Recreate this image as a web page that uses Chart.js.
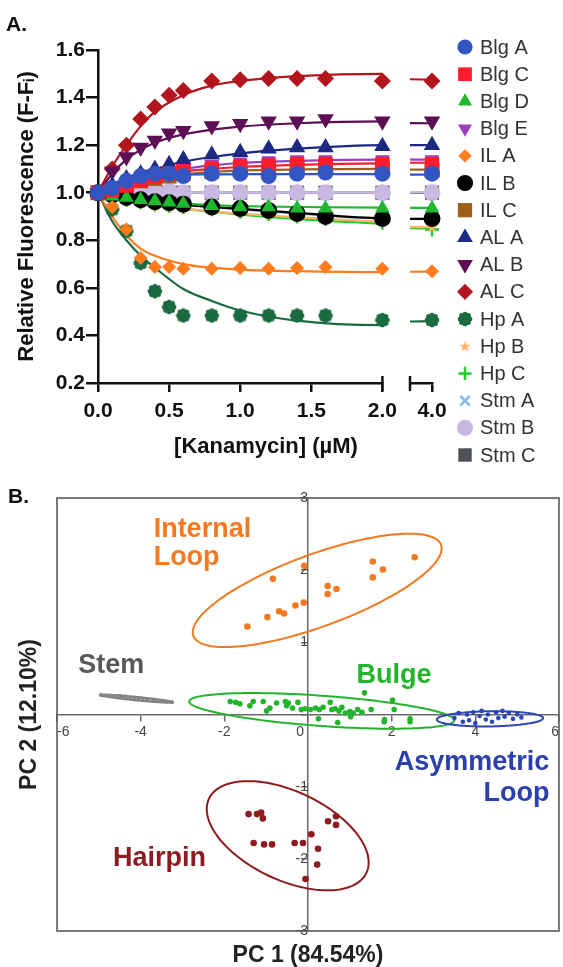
<!DOCTYPE html>
<html>
<head>
<meta charset="utf-8">
<script src="https://cdn.jsdelivr.net/npm/chart.js@4.4.1/dist/chart.umd.min.js"></script>
<style>
  html, body { margin: 0; padding: 0; background: #fff; }
  #wrap { position: relative; width: 563px; height: 967px; overflow: hidden; }
  canvas { position: absolute; }
  #curve { left: 0; top: 0; }
  #curveBreak { left: 390px; top: 0; }
  #pca { left: 0; top: 480px; }
</style>
</head>
<body>
<div id="wrap">
  <canvas id="curve" width="404" height="460"></canvas>
  <canvas id="curveBreak" width="173" height="476"></canvas>
  <canvas id="pca" width="563" height="487"></canvas>
</div>
<script>
// ===== Panel A data: titration points =====
const seriesNames = ['Blg A', 'Blg C', 'Blg D', 'Blg E', 'IL A', 'IL B', 'IL C', 'AL A',
  'AL B', 'AL C', 'Hp A', 'Hp B', 'Hp C', 'Stm A', 'Stm B', 'Stm C'];

const concX = [0, 0.1, 0.2, 0.3, 0.4, 0.5, 0.6, 0.8, 1.0, 1.2, 1.4, 1.6, 2.0, 4.0];

const blgA = [1.00, 1.02, 1.05, 1.07, 1.08, 1.08, 1.07, 1.08, 1.08, 1.07, 1.08, 1.085, 1.08, 1.08];
const blgC = [1.00, 1.01, 1.03, 1.05, 1.07, 1.08, 1.09, 1.10, 1.11, 1.115, 1.12, 1.12, 1.12, 1.12];
const blgD = [1.00, 0.985, 0.98, 0.97, 0.965, 0.96, 0.955, 0.945, 0.94, 0.94, 0.935, 0.935, 0.935, 0.935];
const blgE = [1.00, 1.02, 1.04, 1.06, 1.08, 1.09, 1.10, 1.12, 1.13, 1.135, 1.14, 1.14, 1.14, 1.14];
const ilA  = [1.00, 0.94, 0.845, 0.726, 0.688, 0.688, 0.68, 0.68, 0.684, 0.68, 0.684, 0.688, 0.68, 0.67];
const ilB  = [1.00, 0.99, 0.98, 0.97, 0.962, 0.958, 0.952, 0.94, 0.934, 0.925, 0.913, 0.90, 0.892, 0.892];
const ilC  = [1.00, 1.01, 1.03, 1.05, 1.06, 1.07, 1.08, 1.09, 1.10, 1.10, 1.105, 1.105, 1.10, 1.095];
const alA  = [1.00, 1.03, 1.06, 1.08, 1.10, 1.12, 1.14, 1.16, 1.17, 1.185, 1.19, 1.19, 1.195, 1.20];
const alB  = [1.00, 1.09, 1.15, 1.19, 1.22, 1.25, 1.26, 1.28, 1.29, 1.30, 1.30, 1.31, 1.30, 1.30];
const alC  = [1.00, 1.10, 1.20, 1.31, 1.36, 1.41, 1.43, 1.47, 1.475, 1.48, 1.48, 1.48, 1.47, 1.47];
const hpA  = [1.00, 0.93, 0.84, 0.705, 0.586, 0.52, 0.484, 0.484, 0.484, 0.484, 0.484, 0.484, 0.465, 0.465];
const hpB  = [1.00, 0.98, 0.965, 0.955, 0.945, 0.94, 0.935, 0.925, 0.915, 0.905, 0.895, 0.89, 0.88, 0.855];
const hpC  = [1.00, 0.985, 0.97, 0.96, 0.95, 0.945, 0.94, 0.93, 0.92, 0.91, 0.90, 0.89, 0.875, 0.845];
const stmA = [1.00, 0.99, 0.98, 0.97, 0.96, 0.955, 0.95, 0.94, 0.93, 0.92, 0.91, 0.90, 0.89, 0.89];
const stmB = [1.00, 1.00, 1.00, 1.005, 1.005, 1.005, 1.00, 1.00, 1.00, 1.00, 1.00, 1.00, 1.00, 1.00];
const stmC = [1.00, 1.00, 1.00, 1.00, 1.00, 1.00, 1.00, 1.00, 1.00, 1.00, 1.00, 1.00, 1.00, 1.00];

// fitted curves
const fitX = [0, 0.1, 0.2, 0.3, 0.4, 0.6, 0.8, 1.0, 1.4, 2.0, 4.0];

const fitBlgA = [1.0, 1.035, 1.055, 1.066, 1.072, 1.076, 1.077, 1.078, 1.078, 1.078, 1.076];
const fitBlgC = [1.0, 1.02, 1.04, 1.058, 1.072, 1.09, 1.10, 1.108, 1.117, 1.123, 1.126];
const fitBlgD = [1.0, 0.99, 0.98, 0.972, 0.965, 0.955, 0.948, 0.944, 0.94, 0.937, 0.936];
const fitBlgE = [1.0, 1.02, 1.042, 1.062, 1.078, 1.10, 1.115, 1.125, 1.134, 1.139, 1.139];
const fitIlA  = [1.0, 0.90, 0.82, 0.765, 0.735, 0.70, 0.685, 0.677, 0.67, 0.666, 0.668];
const fitIlB  = [1.0, 0.99, 0.98, 0.971, 0.963, 0.95, 0.94, 0.932, 0.915, 0.893, 0.89];
const fitIlC  = [1.0, 1.02, 1.038, 1.052, 1.063, 1.078, 1.087, 1.093, 1.098, 1.10, 1.097];
const fitAlA  = [1.0, 1.035, 1.062, 1.085, 1.10, 1.13, 1.15, 1.165, 1.185, 1.20, 1.20];
const fitAlB  = [1.0, 1.08, 1.14, 1.18, 1.21, 1.245, 1.265, 1.278, 1.292, 1.30, 1.292];
const fitAlC  = [1.0, 1.11, 1.20, 1.28, 1.34, 1.41, 1.45, 1.47, 1.49, 1.50, 1.475];
const fitHpA  = [1.0, 0.88, 0.80, 0.735, 0.685, 0.595, 0.545, 0.505, 0.462, 0.443, 0.46];
const fitHpB  = [1.0, 0.985, 0.97, 0.958, 0.948, 0.933, 0.922, 0.912, 0.897, 0.878, 0.855];
const fitHpC  = [1.0, 0.985, 0.97, 0.958, 0.948, 0.932, 0.92, 0.908, 0.89, 0.87, 0.85];
const fitStmA = [1.0, 0.99, 0.98, 0.97, 0.962, 0.95, 0.94, 0.93, 0.912, 0.892, 0.89];
const fitStmB = [1.0, 1.0, 1.0, 1.0, 1.0, 1.0, 1.0, 1.0, 1.0, 1.0, 1.003];
const fitStmC = [1.0, 1.0, 1.0, 1.0, 1.0, 1.0, 1.0, 1.0, 1.0, 1.0, 1.0];

const yTicksA = [0.2, 0.4, 0.6, 0.8, 1.0, 1.2, 1.4, 1.6];
const xTicksMain = [0, 0.5, 1.0, 1.5, 2.0];
const xTicksBreak = [4.0];

// ===== Panel B data: PCA scores =====
const pc1Internal = [-1.45, -0.97, -0.69, -0.57, -0.84, -0.30, -0.10, -0.09, 0.47, 0.47, 0.68, 1.55, 1.55, 1.79, 2.55];
const pc2Internal = [1.22, 1.35, 1.43, 1.40, 1.88, 1.51, 1.55, 2.06, 1.78, 1.67, 1.74, 2.12, 1.90, 2.01, 2.18];

const pc1Stem = [-4.95, -4.75, -4.6, -4.5, -4.45, -4.35, -4.25, -4.15, -4.05, -3.95, -3.85, -3.7, -3.5, -3.25];
const pc2Stem = [0.27, 0.26, 0.25, 0.26, 0.24, 0.25, 0.23, 0.23, 0.22, 0.22, 0.21, 0.20, 0.19, 0.17];

const pc1Bulge = [-1.86, -1.73, -1.63, -1.39, -1.31, -1.07, -0.91, -0.75, -0.54, -0.51, -0.47, -0.37,
  -0.24, -0.16, -0.07, 0.06, 0.18, 0.27, 0.36, 0.53, 0.57, 0.65, 0.74, 0.81, 0.89, 1.00, 1.08, 1.19,
  1.29, 1.35, 1.51, 1.83, 2.02, 2.06, 2.44, 0.71, 1.02, 1.82, 2.44, 0.25, -0.99];
const pc2Bulge = [0.18, 0.17, 0.15, 0.12, 0.18, 0.18, 0.09, 0.16, 0.18, 0.12, 0.16, 0.09,
  0.17, 0.07, 0.08, 0.07, 0.09, 0.07, 0.10, 0.17, 0.07, 0.08, 0.05, 0.10, 0.02, 0.04, 0.02, 0.07,
  0.03, 0.30, 0.07, -0.07, 0.20, 0.07, -0.06, -0.11, -0.03, -0.10, -0.10, -0.06, 0.05];

const pc1Asym = [3.5, 3.6, 3.7, 3.8, 3.85, 3.95, 4.0, 4.1, 4.15, 4.25, 4.3, 4.4, 4.5, 4.55, 4.65, 4.7, 4.8, 4.9, 5.0, 5.1];
const pc2Asym = [-0.05, 0.02, -0.10, 0.0, -0.08, 0.03, -0.12, -0.02, 0.05, -0.07, 0.0, -0.10, 0.03, -0.05, 0.05, -0.03, 0.02, -0.06, 0.0, -0.04];

const pc1Hairpin = [-1.42, -1.22, -1.12, -1.08, -1.30, -1.05, -0.86, -0.32, -0.12, 0.08, 0.24, 0.22, -0.06, 0.48, 0.67, 0.67];
const pc2Hairpin = [-1.38, -1.38, -1.36, -1.44, -1.78, -1.80, -1.80, -1.78, -1.78, -1.66, -1.86, -2.08, -2.28, -1.48, -1.41, -1.53];

// confidence ellipses: centre, and two conjugate half-axes (PC units)
const ellipseInternal = { cx: 0.22, cy: 1.72, ax: 2.975, ay: 0.58, bx: 0, by: 0.53 };
const ellipseStem     = { cx: -4.1, cy: 0.22, ax: 0.87, ay: -0.05, bx: 0, by: 0.022 };
const ellipseBulge    = { cx: 0.33, cy: 0.05, ax: 3.17, ay: -0.13, bx: 0, by: 0.21 };
const ellipseAsym     = { cx: 4.35, cy: -0.06, ax: 1.27, ay: 0.01, bx: 0, by: 0.105 };
const ellipseHairpin  = { cx: -0.485, cy: -1.68, ax: 1.935, ay: -0.37, bx: 0, by: 0.66 };

const FONT = '"Liberation Sans", Arial, Helvetica, sans-serif';
Chart.defaults.font.family = FONT;

// ---- custom markers (Hp A cog, Hp B star) ----
function makeCog(color) {
  const c = document.createElement('canvas');
  c.width = 16; c.height = 16;
  const g = c.getContext('2d');
  g.fillStyle = color;
  g.beginPath(); g.arc(8, 8, 4.6, 0, Math.PI * 2); g.fill();
  for (let k = 0; k < 8; k++) {
    const a = k * Math.PI / 4;
    g.beginPath(); g.arc(8 + Math.cos(a) * 4.7, 8 + Math.sin(a) * 4.7, 2.6, 0, Math.PI * 2); g.fill();
  }
  return c;
}
function makeStar(color) {
  const c = document.createElement('canvas');
  c.width = 13; c.height = 13;
  const g = c.getContext('2d');
  g.fillStyle = color;
  g.beginPath();
  for (let k = 0; k < 10; k++) {
    const r = k % 2 ? 2.4 : 6;
    const a = -Math.PI / 2 + k * Math.PI / 5;
    g.lineTo(6.5 + Math.cos(a) * r, 7 + Math.sin(a) * r);
  }
  g.closePath(); g.fill();
  return c;
}

const seriesColors = ['#3355c4', '#ff1c2c', '#1fb82e', '#9a3fc0', '#ff7b1c', '#000000', '#a05f18', '#1c2a82',
  '#5c0f55', '#b3151e', '#1b6b40', '#ffb46a', '#25cc25', '#7fb7ee', '#c9b9e2', '#4f5158'];

const markerStyles = [
  { style: 'circle', r: 8 },
  { style: 'rect', r: 10.2 },
  { style: 'triangle', r: 8.5 },
  { style: 'triangle', r: 8.5, rot: 180 },
  { style: 'rectRot', r: 7 },
  { style: 'circle', r: 8.5 },
  { style: 'rect', r: 10.6 },
  { style: 'triangle', r: 9.5 },
  { style: 'triangle', r: 9.5, rot: 180 },
  { style: 'rectRot', r: 8.5 },
  { style: makeCog('#1b6b40'), r: 7 },
  { style: makeStar('#ffb46a'), r: 6 },
  { style: 'cross', r: 7, bw: 2.5 },
  { style: 'crossRot', r: 7, bw: 2.5 },
  { style: 'circle', r: 8.5 },
  { style: 'rect', r: 10 },
];

const pointSeries = [blgA, blgC, blgD, blgE, ilA, ilB, ilC, alA, alB, alC, hpA, hpB, hpC, stmA, stmB, stmC];
const fitSeries = [fitBlgA, fitBlgC, fitBlgD, fitBlgE, fitIlA, fitIlB, fitIlC, fitAlA, fitAlB, fitAlC,
  fitHpA, fitHpB, fitHpC, fitStmA, fitStmB, fitStmC];

const toPoints = (xs, ys) => ys.map((y, i) => ({ x: xs[i], y }));

// points first so they sit on top of all the curves
const curveDatasets = () => [
  ...seriesNames.map((name, i) => ({
    label: name,
    data: toPoints(concX, pointSeries[i]),
    showLine: false,
    pointStyle: markerStyles[i].style,
    pointRadius: markerStyles[i].r,
    pointRotation: markerStyles[i].rot || 0,
    pointBackgroundColor: seriesColors[i],
    pointBorderColor: seriesColors[i],
    pointBorderWidth: markerStyles[i].bw || 0,
    backgroundColor: seriesColors[i],
    borderColor: seriesColors[i],
    clip: false,
  })),
  ...seriesNames.map((name, i) => ({
    label: name + ' fit',
    data: toPoints(fitX, fitSeries[i]),
    showLine: true,
    pointRadius: 0,
    borderColor: seriesColors[i],
    borderWidth: 2.2,
    cubicInterpolationMode: 'monotone',
    fill: false,
  })),
];

const tickFontA = { family: FONT, size: 21, weight: 'bold' };
const axisLineA = { color: '#111', width: 2.5 };
const gridA = (len) => ({ drawOnChartArea: false, tickLength: len, color: '#111', lineWidth: 2.5 });

// ---- break marks + free texts of panel A ----
const curveTextPlugin = {
  id: 'curveText',
  afterDraw(chart) {
    const { ctx, chartArea, scales: { x } } = chart;
    ctx.save();
    const xb = x.getPixelForValue(xTicksMain[xTicksMain.length - 1]);
    ctx.strokeStyle = '#111';
    ctx.lineWidth = 2.5;
    ctx.beginPath();
    ctx.moveTo(xb, chartArea.bottom - 7);
    ctx.lineTo(xb, chartArea.bottom + 8);
    ctx.stroke();

    ctx.fillStyle = '#111';
    ctx.textBaseline = 'middle';
    ctx.textAlign = 'center';
    ctx.font = `bold 22px ${FONT}`;
    ctx.fillText('[Kanamycin] (µM)', 266, 447);
    ctx.textAlign = 'left';
    ctx.font = `bold 21px ${FONT}`;
    ctx.fillText('A.', 6, 25);
    ctx.restore();
  },
};

new Chart(document.getElementById('curve'), {
  type: 'scatter',
  data: { datasets: curveDatasets() },
  options: {
    responsive: false,
    animation: false,
    devicePixelRatio: 1,
    events: [],
    layout: { padding: { left: 0, top: 50, right: 18, bottom: 0 } },
    scales: {
      x: {
        type: 'linear',
        min: 0,
        max: 2,
        afterBuildTicks: (s) => { s.ticks = xTicksMain.map((v) => ({ value: v })); },
        afterFit: (s) => { s.height = 77; },
        ticks: { font: tickFontA, color: '#111', padding: 7, autoSkip: false, maxRotation: 0,
          callback: (v) => Number(v).toFixed(1) },
        grid: gridA(9),
        border: axisLineA,
      },
      y: {
        type: 'linear',
        min: 0.2,
        max: 1.6,
        afterBuildTicks: (s) => { s.ticks = yTicksA.map((v) => ({ value: v })); },
        afterFit: (s) => { s.width = 98; },
        ticks: { font: tickFontA, color: '#111', padding: 1, callback: (v) => Number(v).toFixed(1) },
        grid: gridA(12),
        border: axisLineA,
        title: {
          display: true,
          text: 'Relative Fluorescence (F-Fᵢ)',
          color: '#111',
          font: { family: FONT, size: 22, weight: 'bold' },
          padding: { top: 14, bottom: 0 },
        },
      },
    },
    plugins: { legend: { display: false }, tooltip: { enabled: false } },
  },
  plugins: [curveTextPlugin],
});

// ---- second axis segment (4.0) and the side legend ----
const legendTop = 47;
const legendStep = 27.2;

const breakLegendPlugin = {
  id: 'breakLegend',
  afterDraw(chart) {
    const { ctx, chartArea, scales: { x } } = chart;
    ctx.save();
    const xb = x.left;
    ctx.strokeStyle = '#111';
    ctx.lineWidth = 2.5;
    ctx.beginPath();
    ctx.moveTo(xb, chartArea.bottom - 7);
    ctx.lineTo(xb, chartArea.bottom + 8);
    ctx.stroke();

    const drawPoint = Chart.helpers && Chart.helpers.drawPoint;
    seriesNames.forEach((name, i) => {
      const ds = chart.data.datasets[i];
      const y = legendTop + i * legendStep;
      ctx.fillStyle = seriesColors[i];
      ctx.strokeStyle = seriesColors[i];
      ctx.lineWidth = ds.pointBorderWidth;
      if (drawPoint) {
        drawPoint(ctx, {
          pointStyle: ds.pointStyle,
          radius: ds.pointRadius * 0.95,
          rotation: ds.pointRotation,
          borderWidth: ds.pointBorderWidth,
        }, 75, y);
      }
      ctx.fillStyle = '#333';
      ctx.font = `20px ${FONT}`;
      ctx.textAlign = 'left';
      ctx.textBaseline = 'middle';
      ctx.fillText(name, 90, y + 1);
    });
    ctx.restore();
  },
};

new Chart(document.getElementById('curveBreak'), {
  type: 'scatter',
  data: { datasets: curveDatasets() },
  options: {
    responsive: false,
    animation: false,
    devicePixelRatio: 1,
    events: [],
    layout: { padding: { left: 20, top: 50, right: 131, bottom: 16 } },
    scales: {
      x: {
        type: 'linear',
        min: 3.85,
        max: 4.0,
        afterBuildTicks: (s) => { s.ticks = xTicksBreak.map((v) => ({ value: v })); },
        afterFit: (s) => { s.height = 77; },
        ticks: { font: tickFontA, color: '#111', padding: 7, autoSkip: false, maxRotation: 0,
          callback: (v) => Number(v).toFixed(1) },
        grid: gridA(9),
        border: axisLineA,
      },
      y: { type: 'linear', display: false, min: 0.2, max: 1.6 },
    },
    plugins: { legend: { display: false }, tooltip: { enabled: false } },
  },
  plugins: [breakLegendPlugin],
});

// ===== Panel B: PCA =====
const pcaGroups = [
  { name: 'Internal Loop', pc1: pc1Internal, pc2: pc2Internal, ellipse: ellipseInternal, color: '#f47920', r: 3.3 },
  { name: 'Stem', pc1: pc1Stem, pc2: pc2Stem, ellipse: ellipseStem, color: '#858585', r: 1.9 },
  { name: 'Bulge', pc1: pc1Bulge, pc2: pc2Bulge, ellipse: ellipseBulge, color: '#22b42a', r: 2.8 },
  { name: 'Asymmetric Loop', pc1: pc1Asym, pc2: pc2Asym, ellipse: ellipseAsym, color: '#2e45b8', r: 2.3 },
  { name: 'Hairpin', pc1: pc1Hairpin, pc2: pc2Hairpin, ellipse: ellipseHairpin, color: '#8c1a1f', r: 3.3 },
];

// group captions: text lines, anchor in PC units, alignment
const pcaCaptions = [
  { lines: ['Internal', 'Loop'], x: -3.69, y: [2.46, 2.07], align: 'left', color: '#f47920' },
  { lines: ['Stem'], x: -5.49, y: [0.58], align: 'left', color: '#58595b' },
  { lines: ['Bulge'], x: 1.16, y: [0.44], align: 'left', color: '#22b42a' },
  { lines: ['Asymmetric', 'Loop'], x: 5.77, y: [-0.775, -1.2], align: 'right', color: '#2b3fae' },
  { lines: ['Hairpin'], x: -4.66, y: [-2.1], align: 'left', color: '#8e1b22' },
];

const pcaPlugin = {
  id: 'pcaDecor',
  beforeDatasetsDraw(chart) {
    const { ctx, scales: { x, y } } = chart;
    ctx.save();
    pcaGroups.forEach((g) => {
      const e = g.ellipse;
      ctx.strokeStyle = g.color;
      ctx.lineWidth = g.name === 'Stem' ? 2.4 : 2;
      ctx.beginPath();
      for (let k = 0; k <= 180; k++) {
        const t = (k / 180) * Math.PI * 2;
        const px = x.getPixelForValue(e.cx + e.ax * Math.cos(t) + e.bx * Math.sin(t));
        const py = y.getPixelForValue(e.cy + e.ay * Math.cos(t) + e.by * Math.sin(t));
        if (k === 0) ctx.moveTo(px, py); else ctx.lineTo(px, py);
      }
      ctx.closePath();
      ctx.stroke();
    });
    ctx.restore();
  },
  afterDraw(chart) {
    const { ctx, chartArea, scales: { x, y } } = chart;
    ctx.save();
    ctx.strokeStyle = '#5a5a5a';
    ctx.lineWidth = 1.6;
    ctx.strokeRect(chartArea.left, chartArea.top, chartArea.right - chartArea.left, chartArea.bottom - chartArea.top);

    ctx.font = `bold 27px ${FONT}`;
    ctx.textBaseline = 'alphabetic';
    pcaCaptions.forEach((c) => {
      ctx.fillStyle = c.color;
      ctx.textAlign = c.align;
      c.lines.forEach((line, i) => {
        ctx.fillText(line, x.getPixelForValue(c.x), y.getPixelForValue(c.y[i]));
      });
    });

    ctx.fillStyle = '#222';
    ctx.font = `bold 23px ${FONT}`;
    ctx.textAlign = 'center';
    ctx.textBaseline = 'middle';
    ctx.fillText('PC 1 (84.54%)', (chartArea.left + chartArea.right) / 2, chartArea.bottom + 25);
    ctx.save();
    ctx.translate(30, (chartArea.top + chartArea.bottom) / 2);
    ctx.rotate(-Math.PI / 2);
    ctx.fillText('PC 2 (12.10%)', 0, 0);
    ctx.restore();

    ctx.fillStyle = '#111';
    ctx.textAlign = 'left';
    ctx.font = `bold 21px ${FONT}`;
    ctx.fillText('B.', 8, 17);
    ctx.restore();
  },
};

const tickFontB = { family: FONT, size: 14 };
const axisLineB = { color: '#6a6a6a', width: 1.5 };
const gridB = { drawOnChartArea: false, tickLength: 6, color: '#6a6a6a', lineWidth: 1.5 };

new Chart(document.getElementById('pca'), {
  type: 'scatter',
  data: {
    datasets: pcaGroups.map((g) => ({
      label: g.name,
      data: toPoints(g.pc1, g.pc2),
      pointRadius: g.r,
      pointBorderWidth: 0,
      pointBackgroundColor: g.color,
      backgroundColor: g.color,
      borderColor: g.color,
    })),
  },
  options: {
    responsive: false,
    animation: false,
    devicePixelRatio: 1,
    events: [],
    layout: { padding: { left: 57, top: 18, right: 1, bottom: 36 } },
    scales: {
      x: {
        type: 'linear',
        min: -6,
        max: 6,
        position: { y: 0 },
        ticks: { stepSize: 2, align: 'inner', color: '#444', font: tickFontB, padding: 3,
          callback: (v) => (v === 0 ? '0    ' : String(v)) },
        grid: gridB,
        border: axisLineB,
      },
      y: {
        type: 'linear',
        min: -3,
        max: 3,
        position: { x: 0 },
        ticks: { stepSize: 1, align: 'inner', color: '#444', font: tickFontB, padding: 1,
          callback: (v) => (v === 0 ? '' : String(v)) },
        grid: gridB,
        border: axisLineB,
      },
    },
    plugins: { legend: { display: false }, tooltip: { enabled: false } },
  },
  plugins: [pcaPlugin],
});
</script>
</body>
</html>
